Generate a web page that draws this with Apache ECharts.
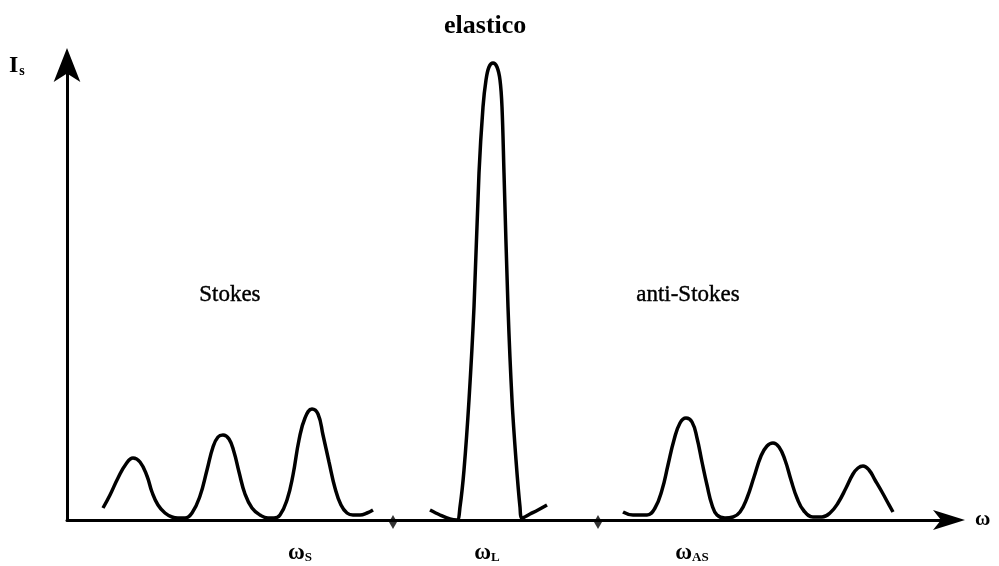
<!DOCTYPE html>
<html>
<head>
<meta charset="utf-8">
<script src="https://cdn.jsdelivr.net/npm/echarts@6/dist/echarts.min.js"></script>
<style>
  html, body { margin: 0; padding: 0; background: #fff; }
  #chart { width: 999px; height: 566px; }
</style>
</head>
<body>
<div id="chart"></div>
<script>
// Scattered intensity I_s versus frequency ω (arbitrary units).
// Each band is a list of [ω, I_s] pairs.
const stokesBand = [
  [36, 12], [43, 25], [51, 42], [59, 56], [66, 62], [73, 58], [80, 44], [85, 28],
  [91, 15], [98, 7], [105, 3], [111, 2], [118, 2], [125, 7], [133, 24], [140, 50],
  [146, 73], [151, 83], [156, 85], [162, 81], [167, 68], [172, 48], [178, 26],
  [185, 12], [193, 5], [201, 2], [207, 2], [213, 5], [220, 20], [226, 45], [232, 80],
  [238, 102], [245, 111], [251, 106], [256, 85], [262, 58], [268, 32], [274, 15],
  [280, 7], [286, 5], [293, 5], [300, 7], [306, 10]
];
const elasticBand = [
  [363, 10], [373, 5], [383, 1], [390, 0], [393, 13], [397, 50], [402, 120],
  [407, 213], [412, 347], [416, 413], [419, 440], [422, 453], [426, 457], [430, 453],
  [433, 440], [435, 413], [437, 347], [441, 213], [445, 120], [449, 60], [453, 13],
  [455, 2], [463, 6], [471, 10], [480, 15]
];
const antiStokesBand = [
  [556, 8], [566, 5], [580, 5], [588, 12], [595, 30], [601, 55], [607, 80], [613, 97],
  [619, 102], [625, 98], [630, 82], [635, 58], [640, 35], [645, 15], [650, 5],
  [658, 2], [666, 3], [673, 8], [680, 22], [687, 43], [694, 64], [700, 74], [706, 77],
  [712, 73], [718, 60], [724, 40], [730, 22], [737, 9], [746, 3], [755, 3], [763, 7],
  [771, 17], [779, 32], [786, 46], [791, 52], [796, 54], [802, 50], [808, 40],
  [815, 28], [821, 17], [826, 8]
];
// Small break marks on the frequency axis
const axisBreaks = [326, 531];
// Labelled frequencies under the axis
const markerValues = [233, 420, 625];
const markerSubs = ['S', 'L', 'AS'];

const serif = '"Liberation Serif", "DejaVu Serif", serif';
const ink = '#000';

const lineSeries = (name, data, smooth) => ({
  name: name,
  type: 'line',
  data: data,
  smooth: smooth,
  symbol: 'none',
  clip: false,
  lineStyle: { color: ink, width: 3.5 },
  z: 3
});

const chart = echarts.init(document.getElementById('chart'), null, { renderer: 'canvas' });
chart.setOption({
  backgroundColor: '#fff',
  animation: false,
  grid: { left: 67, right: 50, top: 60, bottom: 46, containLabel: false },
  xAxis: {
    type: 'value',
    min: 0,
    max: 882,
    splitLine: { show: false },
    axisTick: { show: false },
    axisLine: {
      onZero: false,
      lineStyle: { color: ink, width: 3 },
      symbol: ['none', 'arrow'],
      symbolSize: [15, 32],
      symbolOffset: [0, 16]
    },
    axisLabel: {
      customValues: markerValues,
      margin: 22,
      formatter: function (v) {
        const i = markerValues.indexOf(v);
        return '{w|ω}{s|' + (i >= 0 ? markerSubs[i] : '') + '}';
      },
      rich: {
        w: { fontFamily: serif, fontSize: 23, fontWeight: 'bold', color: ink },
        s: { fontFamily: serif, fontSize: 13, fontWeight: 'bold', color: ink, padding: [9, 0, 0, 0] }
      }
    }
  },
  yAxis: {
    type: 'value',
    min: 0,
    max: 460,
    splitLine: { show: false },
    axisTick: { show: false },
    axisLabel: { show: false },
    axisLine: {
      show: true,
      onZero: false,
      lineStyle: { color: ink, width: 3 },
      symbol: ['none', 'arrow'],
      symbolSize: [20, 34],
      symbolOffset: [0, 12]
    }
  },
  series: [
    lineSeries('Stokes', stokesBand, 0.45),
    lineSeries('elastico', elasticBand, 0.35),
    lineSeries('anti-Stokes', antiStokesBand, 0.45),
    {
      name: 'breaks',
      type: 'scatter',
      data: axisBreaks.map(x => [x, 0]),
      symbol: 'diamond',
      symbolSize: [8, 14],
      symbolOffset: [0, 2],
      itemStyle: { color: ink },
      z: 4
    }
  ],
  graphic: [
    {
      type: 'text', left: 444, top: 13,
      style: { text: 'elastico', font: 'bold 26px ' + serif, fill: ink }
    },
    {
      type: 'text', left: 199, top: 283,
      style: { text: 'Stokes', font: '23px ' + serif, fill: ink, stroke: ink, lineWidth: 0.4 }
    },
    {
      type: 'text', left: 636, top: 283,
      style: { text: 'anti-Stokes', font: '23px ' + serif, fill: ink, stroke: ink, lineWidth: 0.4 }
    },
    {
      type: 'text', left: 9, top: 54,
      style: {
        text: '{i|I}{s|s}',
        rich: {
          i: { fontFamily: serif, fontSize: 24, fontWeight: 'bold', color: ink },
          s: { fontFamily: serif, fontSize: 14, fontWeight: 'bold', color: ink, padding: [10, 0, 0, 1] }
        }
      }
    },
    {
      type: 'text', left: 975, top: 509,
      style: { text: 'ω', font: 'bold 21px ' + serif, fill: ink }
    }
  ]
});
</script>
</body>
</html>
